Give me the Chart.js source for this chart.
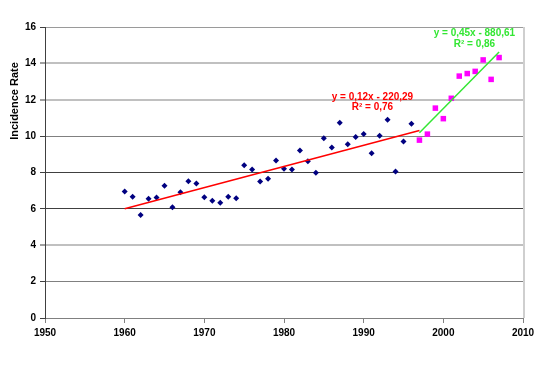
<!DOCTYPE html>
<html>
<head>
<meta charset="utf-8">
<script src="https://cdn.jsdelivr.net/npm/chart.js@4/dist/chart.umd.min.js"></script>
<style>
html,body{margin:0;padding:0;background:#fff;}
canvas{display:block;}
</style>
</head>
<body>
<canvas id="c" width="540" height="368"></canvas>
<script>
// ---- data ----
const yearsEarly = [1960,1961,1962,1963,1964,1965,1966,1967,1968,1969,1970,1971,1972,1973,1974,1975,1976,1977,1978,1979,1980,1981,1982,1983,1984,1985,1986,1987,1988,1989,1990,1991,1992,1993,1994,1995,1996];
const ratesEarly = [6.95,6.66,5.67,6.55,6.62,7.27,6.09,6.92,7.52,7.40,6.64,6.44,6.33,6.66,6.59,8.40,8.17,7.51,7.65,8.66,8.20,8.17,9.21,8.62,7.98,9.89,9.38,10.74,9.56,9.95,10.11,9.06,10.02,10.90,8.06,9.71,10.68];
const yearsLate = [1997,1998,1999,2000,2001,2002,2003,2004,2005,2006,2007];
const ratesLate = [9.78,10.11,11.54,10.96,12.08,13.30,13.44,13.56,14.19,13.12,14.32];
const trendRedX = [1960,1997];
const trendRedY = [6.01,10.31];
const trendGreenX = [1997,2007];
const trendGreenY = [10.19,14.63];
const redLabel = ["y = 0,12x - 220,29","R² = 0,76"];
const greenLabel = ["y = 0,45x - 880,61","R² = 0,86"];
const yTitle = "Incidence Rate";
const xTicks = [1950,1960,1970,1980,1990,2000,2010];
const yTicks = [0,2,4,6,8,10,12,14,16];

const pts = (xs, ys) => xs.map((x,i)=>({x:x,y:ys[i]}));
const FONT = '"Liberation Sans", Arial, sans-serif';

const gridColors = {16:'#9a9a9a',14:'#c0c0c0',12:'#c0c0c0',10:'#808080',8:'#404040',6:'#404040',4:'#c0c0c0',2:'#808080',0:'#808080'};
const gridWidths = {16:1,14:2,12:2,10:1,8:1,6:1,4:2,2:1,0:1};

const overlay = {
  id:'overlay',
  afterDraw(chart){
    const {ctx, chartArea:a, scales} = chart;
    const x = scales.x, y = scales.y;
    ctx.save();
    ctx.strokeStyle = '#cfcfcf'; ctx.lineWidth = 2;
    ctx.beginPath(); ctx.moveTo(a.right+1, a.top); ctx.lineTo(a.right+1, a.bottom); ctx.stroke();
    ctx.restore();

    ctx.save();
    ctx.font = 'bold 11px ' + FONT;
    ctx.fillStyle = '#000';
    ctx.textAlign = 'center'; ctx.textBaseline = 'middle';
    ctx.translate(15, 101); ctx.rotate(-Math.PI/2);
    ctx.fillText(yTitle, 0, 0);
    ctx.restore();

    ctx.save();
    ctx.font = 'bold 10px ' + FONT;
    ctx.textAlign = 'center'; ctx.textBaseline = 'middle';
    ctx.fillStyle = '#ff0000';
    const rx = x.getPixelForValue(1991.1);
    ctx.fillText(redLabel[0], rx, y.getPixelForValue(12.13));
    ctx.fillText(redLabel[1], rx, y.getPixelForValue(11.57));
    ctx.fillStyle = '#33e633';
    const gx = x.getPixelForValue(2003.9);
    ctx.fillText(greenLabel[0], gx, y.getPixelForValue(15.65));
    ctx.fillText(greenLabel[1], gx, y.getPixelForValue(15.05));
    ctx.restore();
  }
};

new Chart(document.getElementById('c'), {
  type:'scatter',
  data:{
    datasets:[
      {label:'trend1', type:'line', data:pts(trendRedX,trendRedY), borderColor:'#ff0000', borderWidth:1.5, pointRadius:0, fill:false},
      {label:'trend2', type:'line', data:pts(trendGreenX,trendGreenY), borderColor:'#33e633', borderWidth:1.5, pointRadius:0, fill:false},
      {label:'early', data:pts(yearsEarly,ratesEarly), pointStyle:'rectRot', pointRadius:3, backgroundColor:'#000080', borderColor:'#000080', borderWidth:0},
      {label:'late', data:pts(yearsLate,ratesLate), pointStyle:'rect', pointRadius:3.9, backgroundColor:'#ff00ff', borderColor:'#ff00ff', borderWidth:0}
    ]
  },
  options:{
    responsive:false,
    animation:false,
    layout:{padding:{top:27,right:17,left:0,bottom:0}},
    plugins:{legend:{display:false}, tooltip:{enabled:false}},
    scales:{
      x:{
        type:'linear', min:1950, max:2010,
        afterBuildTicks: s => { s.ticks = xTicks.map(v=>({value:v})); },
        afterFit: s => { s.height = 50; },
        grid:{drawOnChartArea:false, drawTicks:true, tickLength:5, color:'#808080', tickColor:'#808080'},
        border:{display:true, color:'#808080', width:1},
        ticks:{font:{family:FONT, size:10, weight:'bold'}, color:'#000', padding:4, maxRotation:0, callback: v => String(v)}
      },
      y:{
        min:0, max:16,
        afterBuildTicks: s => { s.ticks = yTicks.map(v=>({value:v})); },
        afterFit: s => { s.width = 45; },
        grid:{
          drawOnChartArea:true, drawTicks:true, tickLength:5,
          color: c => gridColors[c.tick.value] || '#808080',
          lineWidth: c => gridWidths[c.tick.value] || 1,
          tickColor:'#404040', tickWidth:1
        },
        border:{display:true, color:'#404040', width:1},
        ticks:{font:{family:FONT, size:10, weight:'bold'}, color:'#000', padding:4, callback: v => String(v)}
      }
    }
  },
  plugins:[overlay]
});
</script>
</body>
</html>
